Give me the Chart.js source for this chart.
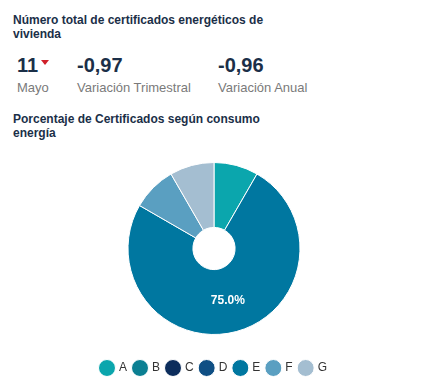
<!DOCTYPE html>
<html>
<head>
<meta charset="utf-8">
<script src="https://cdn.jsdelivr.net/npm/chart.js@4"></script>
<style>
  body { margin: 0; background: #fff; font-family: "Liberation Sans", Arial, sans-serif; width: 437px; height: 391px; position: relative; overflow: hidden; }
  .title { position: absolute; left: 13px; font-weight: bold; font-size: 12px; line-height: 14px; color: #1b2f48; }
  .kpi { position: absolute; top: 53px; }
  .kpi .num { font-weight: bold; font-size: 20px; color: #1b2f48; line-height: 24px; }
  .kpi .lbl { font-size: 13px; color: #7a7a7a; margin-top: 3px; }
  .arrow { display: inline-block; width: 0; height: 0; border-left: 4px solid transparent; border-right: 4px solid transparent; border-top: 5px solid #d0202a; vertical-align: top; margin-top: 7px; margin-left: 3px; }
  #wrap { position: absolute; left: 0; top: 142px; width: 428px; height: 246px; }
</style>
</head>
<body>
<div class="title" style="top:13px">Número total de certificados energéticos de<br>vivienda</div>
<div class="kpi" style="left:17px"><div class="num">11<span class="arrow"></span></div><div class="lbl">Mayo</div></div>
<div class="kpi" style="left:77px"><div class="num">-0,97</div><div class="lbl">Variación Trimestral</div></div>
<div class="kpi" style="left:218px"><div class="num">-0,96</div><div class="lbl">Variación Anual</div></div>
<div class="title" style="top:112px">Porcentaje de Certificados según consumo<br>energía</div>
<div id="wrap"><canvas id="donut"></canvas></div>
<script>
const categories = ["A", "B", "C", "D", "E", "F", "G"];
const certificados = [1, 0, 0, 0, 9, 1, 1];
const colores = ["#0ba6ad", "#0b7f92", "#0c2d5c", "#0f4f84", "#0077a0", "#5a9fc1", "#a4bed1"];

const percentLabels = {
  id: "percentLabels",
  afterDatasetsDraw(chart) {
    const ctx = chart.ctx;
    const data = chart.data.datasets[0].data;
    const total = data.reduce((a, b) => a + b, 0);
    chart.getDatasetMeta(0).data.forEach((arc, i) => {
      const pct = data[i] / total * 100;
      if (pct < 10) return;
      const pos = arc.tooltipPosition();
      ctx.save();
      ctx.fillStyle = "#fff";
      ctx.font = "bold 12px 'Liberation Sans', Arial, sans-serif";
      ctx.textAlign = "center";
      ctx.textBaseline = "middle";
      ctx.fillText(pct.toFixed(1) + "%", pos.x, pos.y);
      ctx.restore();
    });
  },
};

new Chart(document.getElementById("donut"), {
  type: "doughnut",
  data: {
    labels: categories,
    datasets: [
      {
        data: certificados,
        backgroundColor: colores,
        borderColor: "#fff",
        borderWidth: 1,
      },
    ],
  },
  options: {
    responsive: true,
    maintainAspectRatio: false,
    animation: false,
    radius: 86,
    cutout: 26,
    layout: { padding: { top: 0, bottom: 4 } },
    plugins: {
      legend: {
        position: "bottom",
        labels: {
          usePointStyle: true,
          pointStyle: "circle",
          boxWidth: 12,
          boxHeight: 12,
          padding: 7,
          color: "#333",
          font: { size: 12, family: "'Liberation Sans', Arial, sans-serif" },
        },
      },
      tooltip: { enabled: false },
    },
  },
  plugins: [percentLabels],
});
</script>
</body>
</html>
